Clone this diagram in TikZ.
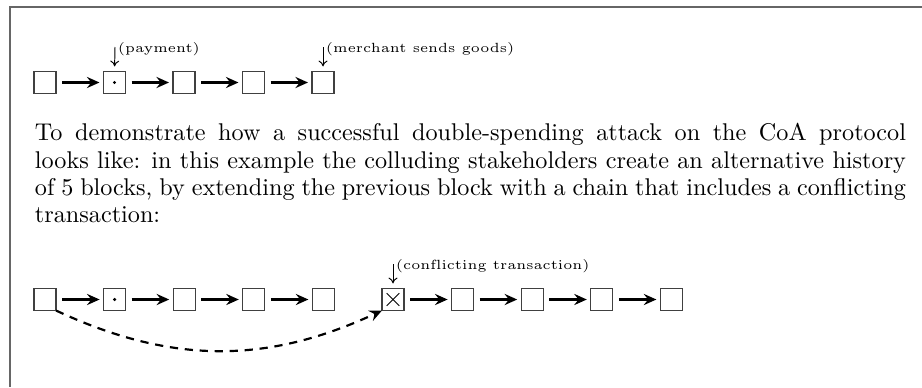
\documentclass[tikz,border=0pt]{standalone}
\usetikzlibrary{arrows.meta}
% small-print labels: the 5pt design, slightly enlarged
\font\lblfont=cmr5 at 5.5pt
\begin{document}
\begin{tikzpicture}[x=0.4133pt,y=-0.4133pt,
  blk/.style={draw=black!75,line width=0.45pt,minimum size=9.1pt,inner sep=0pt,outer sep=0pt},
  link/.style={line width=0.95pt,-{Stealth[length=5.2pt,width=4.6pt,inset=1.8pt]},
    shorten <=2.5pt,shorten >=1.65pt},
  ptr/.style={line width=0.4pt,-{To[length=2.4pt,width=3.7pt]},shorten >=2.1pt},
  lbl/.style={anchor=base west,inner sep=0pt,font=\lblfont},
  forkline/.style={line width=0.9pt,dash pattern=on 3.4pt off 2.8pt,
    -{Stealth[length=5.2pt,width=4.6pt,inset=1.8pt]}},
  frameline/.style={draw=black!60,line width=0.6pt}]
\useasboundingbox (0,0) rectangle (922,387);
\draw[frameline] (922,7) -- (10,7) -- (10,387);

% honest chain
\foreach \i in {1,...,5}
  \node[blk] (a\i) at ({45+69.5*(\i-1)},82.5) {};
\foreach \i/\j in {1/2,2/3,3/4,4/5}
  \draw[link] (a\i.east) -- (a\j.west);
\fill (a2.center) circle (0.7pt);

\coordinate (pa) at (115,47);
\coordinate (pb) at (323,47);
\draw[ptr] (pa) -- (a2.north);
\draw[ptr] (pb) -- (a5.north);
\node[lbl] (la) at (117.5,52.5) {(payment)};
\node[lbl] (lb) at (325.5,52.5) {(merchant sends goods)};

% explanatory paragraph
\node[anchor=base west,text width=360pt,align=justify,inner sep=0pt,
  font=\fontsize{10}{11.3}\selectfont] (para) at (34.5,140.7)
  {To demonstrate how a successful double-spending attack on the CoA protocol\linebreak
   looks like: in this example the colluding stakeholders create an alternative history\linebreak
   of 5 blocks, by extending the previous block with a chain that includes a conflicting\linebreak
   transaction:};

% attack: original chain plus the colluders' fork
\foreach \i in {1,...,10}
  \node[blk] (b\i) at ({45+69.6*(\i-1)},299.5) {};
\foreach \i/\j in {1/2,2/3,3/4,4/5,6/7,7/8,8/9,9/10}
  \draw[link] (b\i.east) -- (b\j.west);
\fill (b2.center) circle (0.7pt);
\draw[line width=0.4pt] ([shift={(-6.3,-6.3)}]b6.center) -- ([shift={(6.3,6.3)}]b6.center);
\draw[line width=0.4pt] ([shift={(-6.3,6.3)}]b6.center) -- ([shift={(6.3,-6.3)}]b6.center);
\draw[forkline] (b1.south east) to[bend right=25] (b6.south west);

\coordinate (pc) at (393,264);
\draw[ptr] (pc) -- (b6.north);
\node[lbl] (lc) at (395.5,269.5) {(conflicting transaction)};
\end{tikzpicture}
\end{document}
